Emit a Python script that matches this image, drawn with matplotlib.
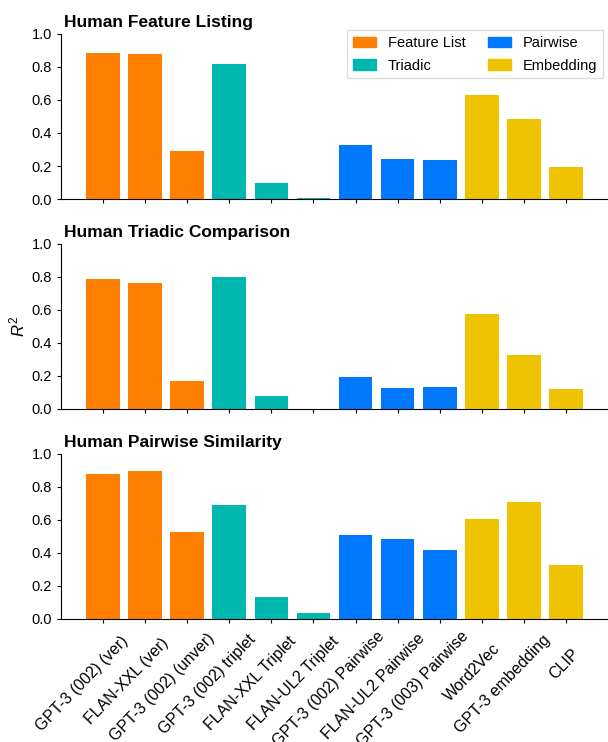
import matplotlib
matplotlib.use("Agg")
from matplotlib import pyplot as plt
from matplotlib.patches import Patch
from matplotlib.transforms import ScaledTranslation, blended_transform_factory

plt.rcParams['font.family'] = ['Liberation Sans', 'DejaVu Sans']
plt.rcParams['mathtext.fontset'] = 'custom'
plt.rcParams['mathtext.it'] = 'Liberation Sans:italic'
plt.rcParams['mathtext.rm'] = 'Liberation Sans'

models = ["GPT-3 (002) (ver)", "FLAN-XXL (ver)", "GPT-3 (002) (unver)",
          "GPT-3 (002) triplet", "FLAN-XXL Triplet", "FLAN-UL2 Triplet",
          "GPT-3 (002) Pairwise", "FLAN-UL2 Pairwise", "GPT-3 (003) Pairwise",
          "Word2Vec", "GPT-3 embedding", "CLIP"]
groups = ["Feature List"] * 3 + ["Triadic"] * 3 + ["Pairwise"] * 3 + ["Embedding"] * 3

feature_listing = [0.883, 0.877, 0.292, 0.817, 0.099, 0.008,
                   0.328, 0.243, 0.237, 0.630, 0.485, 0.195]
triadic_comparison = [0.787, 0.763, 0.171, 0.799, 0.080, 0.001,
                      0.195, 0.129, 0.135, 0.575, 0.328, 0.123]
pairwise_similarity = [0.877, 0.895, 0.527, 0.690, 0.135, 0.038,
                       0.509, 0.485, 0.419, 0.606, 0.708, 0.328]

panels = [("Human Feature Listing", feature_listing),
          ("Human Triadic Comparison", triadic_comparison),
          ("Human Pairwise Similarity", pairwise_similarity)]

colors = {"Feature List": "#ff7f00", "Triadic": "#00b8b0",
          "Pairwise": "#0079ff", "Embedding": "#f0c300"}

fig = plt.figure(figsize=(6.08, 7.42), dpi=100)
bottoms = [0.7318, 0.4488, 0.1658]
axes = []
for (title, vals), b in zip(panels, bottoms):
    ax = fig.add_axes([0.1003, b, 0.8997, 0.2224])
    x = range(len(models))
    ax.bar(x, vals, width=0.8, color=[colors[g] for g in groups])
    ax.set_xlim(-1, 12)
    ax.set_ylim(0, 1.0)
    ax.set_yticks([0, 0.2, 0.4, 0.6, 0.8, 1.0])
    ax.set_xticks(list(x))
    ax.set_title(title, loc='left', fontsize=12.5, fontweight='bold', pad=5, x=0.005)
    ax.spines['top'].set_visible(False)
    ax.spines['right'].set_visible(False)
    ax.tick_params(labelsize=10.5, length=3)
    ax.set_xticklabels([])
    axes.append(ax)

# x labels: rotated, placed like the original (partly offset below the ticks)
ax = axes[-1]
renderer = fig.canvas.get_renderer()
base = blended_transform_factory(ax.transData, ax.transAxes)
for i, name in enumerate(models):
    tmp = fig.text(0, 0, name, fontsize=11.5)
    L = tmp.get_window_extent(renderer).width
    tmp.remove()
    dx = 6 - 0.56 * L
    dy = -(38 + 0.57 * L)
    ax.text(i, 0, name, fontsize=11.5, rotation=46, rotation_mode='anchor',
            ha='left', va='center', clip_on=False,
            transform=base + ScaledTranslation(dx / 100, dy / 100, fig.dpi_scale_trans))

axes[1].set_ylabel("$R^2$", fontsize=12, labelpad=3)

handles = [Patch(color=colors[g], label=g) for g in ["Feature List", "Triadic", "Pairwise", "Embedding"]]
axes[0].legend(handles=handles, ncol=2, loc='upper right', bbox_to_anchor=(0.991, 1.024),
               borderaxespad=0, fontsize=10.5, handlelength=1.6, columnspacing=1.5,
               labelspacing=0.6, framealpha=1.0, edgecolor='#dddddd', fancybox=False)

fig.savefig("out.png", dpi=100)
